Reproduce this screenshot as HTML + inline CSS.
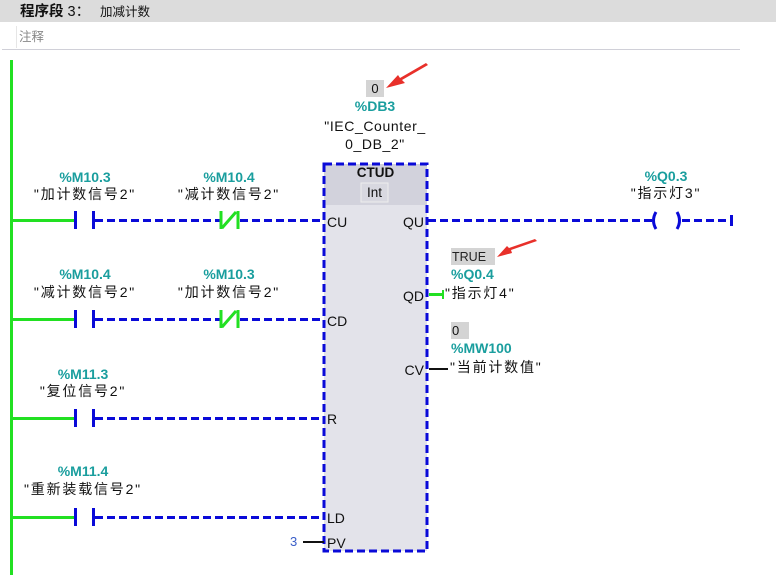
<!DOCTYPE html>
<html><head><meta charset="utf-8"><style>
body{margin:0;background:#fff;width:776px;height:575px;overflow:hidden}
svg{display:block}
text{font-family:"Liberation Sans","Noto Sans CJK SC",sans-serif}
.t{font-size:14px;fill:#111;letter-spacing:1.8px}
.a{font-size:14px;fill:#1a9e9e;font-weight:bold}
.p{font-size:14px;fill:#111}
</style></head><body>
<svg width="776" height="575" viewBox="0 0 776 575">
<rect x="0" y="0" width="776" height="22" fill="#dcdcdc"/>
<text x="20" y="16" font-size="14.5" font-weight="bold" fill="#111">程序段 <tspan font-weight="normal">3：</tspan></text>
<text x="100" y="16" font-size="12.5" fill="#111">加减计数</text>
<rect x="16" y="26" width="760" height="22" fill="#fff"/>
<line x1="16.5" y1="26" x2="16.5" y2="48" stroke="#e6e6e6"/>
<text x="19" y="41" font-size="12.5" fill="#888">注释</text>
<line x1="2" y1="49.5" x2="740" y2="49.5" stroke="#d0d0d8"/>
<rect x="10" y="60" width="3" height="515" fill="#22e022"/>
<g fill="#22e022">
<rect x="12" y="219" width="63" height="3"/>
<rect x="12" y="318" width="63" height="3"/>
<rect x="12" y="417" width="63" height="3"/>
<rect x="12" y="516" width="63" height="3"/>
</g>
<g fill="#0a0ad8">
<rect x="74" y="211" width="3" height="18"/><rect x="92" y="211" width="3" height="18"/>
<rect x="74" y="310" width="3" height="18"/><rect x="92" y="310" width="3" height="18"/>
<rect x="74" y="409" width="3" height="18"/><rect x="92" y="409" width="3" height="18"/>
<rect x="74" y="508" width="3" height="18"/><rect x="92" y="508" width="3" height="18"/>
</g>
<g stroke="#0a0ad8" stroke-width="3" stroke-dasharray="8 4" fill="none">
<line x1="95" y1="220.5" x2="220" y2="220.5"/>
<line x1="240" y1="220.5" x2="324" y2="220.5"/>
<line x1="95" y1="319.5" x2="220" y2="319.5"/>
<line x1="240" y1="319.5" x2="324" y2="319.5"/>
<line x1="95" y1="418.5" x2="324" y2="418.5"/>
<line x1="95" y1="517.5" x2="324" y2="517.5"/>
<line x1="428" y1="220.5" x2="652" y2="220.5"/>
<line x1="682" y1="220.5" x2="730" y2="220.5"/>
</g>
<rect x="730" y="215" width="3" height="11" fill="#0a0ad8"/>
<path d="M656 212 Q651 220.5 656 229" stroke="#0a0ad8" stroke-width="3" fill="none"/>
<path d="M677 212 Q682 220.5 677 229" stroke="#0a0ad8" stroke-width="3" fill="none"/>
<g stroke="#22e022" stroke-width="3" fill="none">
<line x1="221" y1="211" x2="221" y2="229"/><line x1="238" y1="211" x2="238" y2="229"/><line x1="222" y1="228" x2="236" y2="212"/>
<line x1="221" y1="310" x2="221" y2="328"/><line x1="238" y1="310" x2="238" y2="328"/><line x1="222" y1="327" x2="236" y2="311"/>
</g>
<rect x="324" y="164" width="103" height="387" fill="#e3e3ea"/>
<rect x="324" y="164" width="103" height="41" fill="#d2d2dc"/>
<rect x="361" y="183" width="27" height="19" fill="#d8d8e0" stroke="#eeeeee"/>
<rect x="324" y="164" width="103" height="387" fill="none" stroke="#0a0ad8" stroke-width="3" stroke-dasharray="8 4"/>
<text x="375.5" y="177" text-anchor="middle" font-size="13.5" font-weight="bold" fill="#111">CTUD</text>
<text x="374.5" y="197" text-anchor="middle" font-size="13.5" fill="#111">Int</text>
<text x="327" y="227" class="p">CU</text><text x="327" y="326" class="p">CD</text><text x="327" y="424" class="p">R</text><text x="327" y="523" class="p">LD</text><text x="327" y="548" class="p">PV</text>
<text x="424" y="227" text-anchor="end" class="p">QU</text><text x="424" y="301" text-anchor="end" class="p">QD</text><text x="424" y="375" text-anchor="end" class="p">CV</text>
<rect x="429" y="293" width="15" height="3" fill="#22e022"/><rect x="442" y="290" width="2" height="9" fill="#22e022"/>
<rect x="429" y="368" width="19" height="2" fill="#111"/>
<rect x="303" y="541" width="21" height="2" fill="#111"/>
<text x="290" y="546" font-size="13" fill="#3a5ec8">3</text>
<text x="85" y="182" text-anchor="middle" class="a">%M10.3</text>
<text x="85" y="199" text-anchor="middle" class="t">"加计数信号2"</text>
<text x="229" y="182" text-anchor="middle" class="a">%M10.4</text>
<text x="229" y="199" text-anchor="middle" class="t">"减计数信号2"</text>
<text x="85" y="279" text-anchor="middle" class="a">%M10.4</text>
<text x="85" y="297" text-anchor="middle" class="t">"减计数信号2"</text>
<text x="229" y="279" text-anchor="middle" class="a">%M10.3</text>
<text x="229" y="297" text-anchor="middle" class="t">"加计数信号2"</text>
<text x="83" y="379" text-anchor="middle" class="a">%M11.3</text>
<text x="83" y="396" text-anchor="middle" class="t">"复位信号2"</text>
<text x="83" y="476" text-anchor="middle" class="a">%M11.4</text>
<text x="83" y="494" text-anchor="middle" class="t">"重新装载信号2"</text>
<rect x="366" y="80" width="18" height="17" fill="#d4d4d4"/>
<text x="375" y="93" text-anchor="middle" font-size="13" fill="#111">0</text>
<text x="375" y="111" text-anchor="middle" class="a">%DB3</text>
<text x="375" y="131" text-anchor="middle" font-size="14" fill="#111" letter-spacing="0.6">"IEC_Counter_</text>
<text x="375" y="149" text-anchor="middle" font-size="14" fill="#111" letter-spacing="0.6">0_DB_2"</text>
<text x="666" y="181" text-anchor="middle" class="a">%Q0.3</text>
<text x="666" y="198" text-anchor="middle" class="t">"指示灯3"</text>
<rect x="451" y="248" width="44" height="17" fill="#d4d4d4"/>
<text x="452" y="261" font-size="12.5" fill="#222">TRUE</text>
<text x="451" y="279" class="a">%Q0.4</text>
<text x="445" y="298" class="t">"指示灯4"</text>
<rect x="451" y="322" width="18" height="17" fill="#d4d4d4"/>
<text x="452" y="335" font-size="13" fill="#111">0</text>
<text x="451" y="353" class="a">%MW100</text>
<text x="450" y="372" class="t">"当前计数值"</text>
<path d="M428 65 L402 80 L405 83 L386 88 L398 75 L400 78 L426 63 Z" fill="#e8302a"/>
<path d="M537 241 L511 250 L512 253 L497 257 L507 246 L509 248 L535 239 Z" fill="#e8302a"/>
</svg>
</body></html>
